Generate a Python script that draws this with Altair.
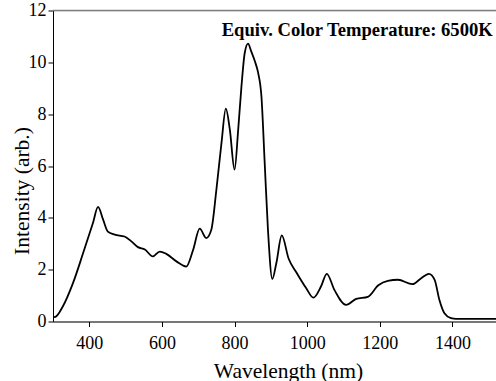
import altair as alt
import pandas as pd

wavelength = [300, 305, 327, 355, 383, 410, 424, 438, 451, 470, 497, 516, 534, 553, 575,
              594, 612, 640, 667, 686, 704, 722, 736, 750, 764, 776, 787, 800, 810, 819,
              828, 837, 846, 856, 865, 874, 883, 892, 904, 915, 930, 949, 970, 997, 1017,
              1038, 1054, 1075, 1107, 1135, 1167, 1196, 1222, 1250, 1290, 1314, 1335, 1351,
              1364, 1378, 1396, 1410, 1520]
intensity = [0.19, 0.17, 0.58, 1.48, 2.64, 3.8, 4.42, 3.93, 3.47, 3.35, 3.28, 3.09, 2.87, 2.78, 2.51,
             2.70, 2.61, 2.32, 2.12, 2.77, 3.58, 3.22, 3.54, 5.09, 6.89, 8.21, 7.4, 5.86, 7.4, 9.07,
             10.36, 10.72, 10.42, 10.04, 9.59, 8.69, 6.12, 3.54, 1.64, 2.25, 3.32, 2.42, 1.9, 1.29, 0.92,
             1.35, 1.84, 1.22, 0.64, 0.87, 0.95, 1.40, 1.57, 1.61, 1.44, 1.67, 1.84, 1.61,
             0.84, 0.32, 0.13, 0.1, 0.1]
x_ticks = [400, 600, 800, 1000, 1200, 1400]
y_ticks = [0, 2, 4, 6, 8, 10, 12]
annotation = ["Equiv. Color Temperature: 6500K"]

df = pd.DataFrame({"wl": wavelength, "I": intensity})
FONT = "Liberation Serif"

xs = alt.Scale(domain=[300, 1520], nice=False, zero=False)
ys = alt.Scale(domain=[0, 12], nice=False)

line = alt.Chart(df).mark_line(color="black", strokeWidth=1.8, interpolate="monotone", clip=True).encode(
    x=alt.X("wl:Q", scale=xs, title="Wavelength (nm)",
            axis=alt.Axis(values=x_ticks, format="d", grid=False, domainColor="black", tickColor="black",
                          tickSize=5, labelPadding=8, labelFontSize=18, labelFont=FONT,
                          labelColor="black", titleFont=FONT, titleFontSize=21.5,
                          titleFontWeight="normal", titleColor="black", titleX=235, titleY=55.5,
                          titleBaseline="alphabetic", labelFlush=False)),
    y=alt.Y("I:Q", scale=ys, title="Intensity (arb.)",
            axis=alt.Axis(values=y_ticks, format="d", grid=False, domainColor="black", tickColor="black",
                          tickSize=5, labelPadding=2, labelFontSize=18, labelFont=FONT,
                          labelColor="black", titleFont=FONT, titleFontSize=21.5,
                          titleFontWeight="normal", titleColor="black", titleY=180, titleX=-25,
                          titleBaseline="alphabetic", labelFlush=False)),
)

top = alt.Chart(pd.DataFrame({"y": [12]})).mark_rule(color="#808080", strokeWidth=1.5).encode(
    y=alt.Y("y:Q", scale=ys)
)

text = alt.Chart(pd.DataFrame({"t": annotation, "x": [1511], "y": [11.0]})).mark_text(
    align="right", baseline="alphabetic", font=FONT, fontSize=18.6, fontWeight="bold", color="black"
).encode(x=alt.X("x:Q", scale=xs), y=alt.Y("y:Q", scale=ys), text="t:N")

chart = alt.layer(top, line, text).properties(
    width=443, height=311,
    autosize=alt.AutoSizeParams(type="none"),
    padding={"left": 53, "top": 10.5, "right": 0, "bottom": 59.5},
).configure_view(stroke=None).configure(background="white")

chart.save("out.html", embed_options={"renderer": "svg", "actions": False})
